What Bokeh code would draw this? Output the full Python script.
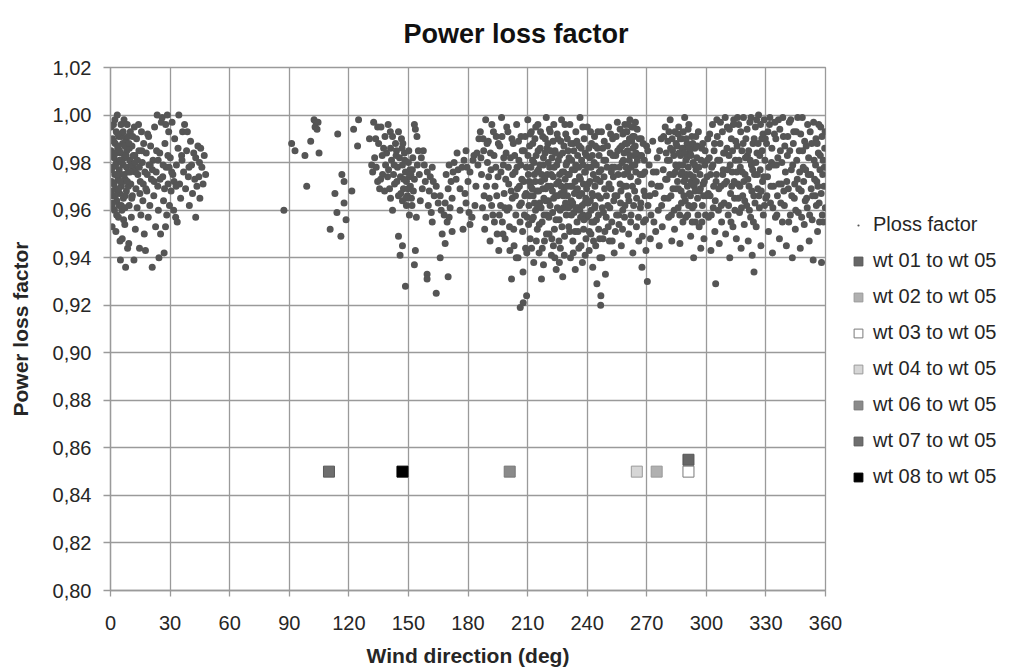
from bokeh.plotting import figure
from bokeh.models import Legend, LegendItem, FixedTicker, CustomJSTickFormatter, Range1d
from bokeh.embed import file_html
from bokeh.resources import INLINE

# ---------------- data ----------------
x_ticks = [0, 30, 60, 90, 120, 150, 180, 210, 240, 270, 300, 330, 360]
y_ticks = [0.80, 0.82, 0.84, 0.86, 0.88, 0.90, 0.92, 0.94, 0.96, 0.98, 1.00, 1.02]

# Ploss factor points: (wind direction deg, power loss factor)
sector_000_050 = [
(0.3,.985),(0.6,.972),(0.8,.953),(1.0,.990),(1.2,.978),(1.4,.966),(1.5,.996),(1.8,.982),(2.0,.960),(2.1,.975),
(2.3,.988),(2.5,.969),(2.7,.951),(2.9,.993),(3.0,.980),(3.2,.964),(3.4,1.000),(3.6,.986),(3.8,.973),(4.0,.957),
(4.2,.991),(4.4,.977),(4.6,.967),(4.8,.947),(5.0,.939),(5.1,.984),(5.3,.996),(5.5,.970),(5.7,.960),(5.9,.948),
(6.1,.988),(6.3,.979),(6.5,.965),(6.8,.998),(7.0,.982),(7.2,.954),(7.4,.973),(7.6,.936),(7.8,.990),(8.0,.968),
(8.2,.985),(8.4,.996),(8.6,.944),(8.9,.976),(9.2,.946),(9.4,.962),(9.7,.981),(10.0,.993),(10.2,.971),(10.5,.957),
(10.8,.987),(11.0,.966),(11.3,.978),(11.8,.939),(12.0,.995),(12.2,.983),(12.5,.952),(12.8,.969),(13.1,.990),(13.4,.961),
(13.8,.975),(14.1,.996),(14.3,.985),(14.6,.944),(15.0,.972),(15.3,.958),(15.6,.993),(16.0,.980),(16.3,.964),(16.7,.988),
(17.0,.950),(17.3,.976),(17.6,.943),(18.0,.984),(18.3,.968),(18.7,.992),(19.0,.957),(19.4,.979),(19.8,.962),(20.2,.987),
(20.6,.973),(21.0,.936),(21.4,.981),(21.8,.966),(22.2,.995),(22.7,.953),(23.0,.976),(23.5,1.000),(23.8,.970),(24.1,.960),
(24.4,.940),(24.8,.984),(25.2,.950),(25.6,.997),(26.0,.999),(26.3,.974),(26.7,.964),(27.0,.942),(27.4,.988),(27.7,.953),
(28.0,.978),(28.3,.958),(28.6,1.000),(29.0,.971),(29.3,.993),(29.7,.962),(30.1,.982),(30.5,.968),(31.0,.997),(31.4,.975),
(31.8,.960),(32.3,.990),(32.8,.957),(33.2,.979),(33.6,.955),(34.0,.986),(34.4,1.000),(34.8,.971),(35.3,.965),(35.8,.983),
(36.3,.993),(36.8,.976),(37.3,.996),(37.8,.969),(38.3,.985),(38.7,.993),(39.2,.974),(39.7,.962),(40.3,.989),(40.8,.979),
(41.3,.967),(41.9,.984),(42.4,.973),(42.9,.982),(42.9,.957),(43.5,.970),(44.0,.987),(44.5,.974),(45.0,.965),(45.4,.986),
(46.0,.978),(46.6,.971),(47.2,.983),(47.9,.975),
(0.2,.968),(0.4,.995),(0.9,.961),(1.3,.984),(1.7,.971),(2.2,.998),(2.6,.979),(3.1,.958),(3.5,.968),(3.9,.987),
(4.3,.962),(4.7,.981),(5.2,.975),(5.6,.991),(6.2,.972),(6.6,.956),(7.1,.987),(7.5,.966),(8.1,.978),(8.8,.991),
(9.0,.970),(9.5,.986),(10.4,.979),(11.5,.983),(12.6,.976),(13.6,.981),(14.8,.967),(16.5,.971),(18.5,.975),(20.0,.979),
(22.0,.972),(24.0,.981),(26.5,.979),(27.8,.996),(28.9,.983),(30.8,.976),(32.0,.972),
(0.5,.977),(1.1,.963),(1.6,.989),(2.4,.966),(2.8,.984),(3.3,.975),(3.7,.992),(4.1,.969),(4.5,.985),(4.9,.972),
(5.4,.962),(5.8,.980),(6.4,.993),(6.9,.975),(7.3,.961),(7.9,.983),(8.5,.972),(9.3,.988),(9.9,.976),(10.7,.965),
(11.2,.991),(12.4,.980),(14.5,.978),(15.8,.985),(17.8,.969),(19.2,.991),(21.1,.977),(23.2,.985),(25.0,.973),(27.2,.969),
(29.5,.978),(33.0,.970),(36.0,.981),(39.5,.978),(44.8,.980),
]

sector_085_130 = [
(87.3,.960),(91.2,.988),(92.9,.985),(97.9,.983),(100.8,.989),(105.0,.984),(102.5,.998),(103.5,.997),(103.0,.995),
(104.5,.997),(104.0,.994),(114.4,.992),(98.8,.970),(116.5,.975),(117.6,.972),(113.0,.967),(121.5,.968),(117.6,.963),
(114.0,.959),(118.6,.956),(110.6,.952),(116.0,.949),(122.4,.994),(124.9,.998),(124.4,.987),(130.4,.990),
]

sector_130_186 = [
(132.5,.997),(134.5,.995),(136.2,.995),(139.8,.996),(140.9,.993),(142.0,.991),(143.5,.988),(145.0,.993),(146.5,.990),
(144.0,.985),(141.0,.986),(139.0,.984),(137.5,.986),(135.0,.988),(133.0,.982),(131.5,.979),(132.0,.976),(133.8,.978),
(134.5,.972),(135.5,.969),(137.0,.975),(138.5,.979),(140.0,.977),(141.5,.981),(142.5,.975),(143.0,.971),(144.5,.978),
(145.5,.982),(146.0,.974),(147.0,.979),(147.5,.969),(148.0,.984),(148.5,.976),(149.0,.972),(149.5,.966),(150.0,.980),
(150.5,.974),(151.0,.970),(151.5,.965),(152.0,.977),(152.5,.968),(153.0,.973),(149.0,.962),(147.0,.964),(145.0,.966),
(141.0,.965),(138.0,.968),(136.0,.973),(153.5,.994),(154.3,.991),(153.0,.996),(155.0,.985),(156.5,.982),(158.0,.979),
(159.5,.976),(161.0,.974),(162.5,.972),(157.0,.969),(163.0,.966),(160.0,.962),(165.0,.963),(166.5,.960),(168.0,.958),
(169.5,.955),(170.5,.957),(167.0,.950),(168.5,.946),(166.0,.940),(164.0,.925),(170.0,.932),(159.4,.933),(159.4,.931),
(153.5,.943),(153.0,.937),(148.5,.928),(145.0,.949),(147.0,.945),(145.8,.941),(161.5,.959),(162.0,.955),(156.0,.964),
(171.0,.961),(172.0,.965),(170.0,.969),(171.5,.972),(169.0,.975),(170.5,.979),(173.0,.980),(175.0,.977),(174.0,.973),
(176.0,.969),(178.0,.981),(179.5,.978),(181.0,.976),(180.0,.972),(178.5,.967),(179.0,.963),(180.5,.959),(181.0,.954),
(182.0,.957),(177.5,.952),(183.0,.983),(184.5,.984),(185.0,.979),(176.0,.960),(172.0,.951),(154.0,.957),(142.0,.960),
(150.5,.958),(143.8,.983),(146.8,.986),(148.2,.981),(150.8,.977),(147.7,.973),(149.8,.969),(151.8,.962),
(133.5,.990),(136.8,.983),(138.2,.991),(139.5,.974),(140.5,.969),(142.8,.979),(144.2,.972),(146.2,.967),(147.2,.988),
(148.8,.965),(150.2,.985),(151.2,.975),(152.2,.982),(154.5,.979),(155.5,.975),(157.5,.985),(158.5,.972),(160.5,.968),
(162.0,.978),(164.0,.970),(166.0,.966),(168.5,.963),(172.5,.976),(174.5,.984),(177.0,.978),(179.0,.985),(182.5,.981),
(184.0,.970),(185.5,.990),(183.5,.962),
]

sector_186_240 = [
(186.2,.993),(186.8,.975),(187.3,.961),(187.9,.985),(188.4,.952),(188.9,.998),(189.3,.970),(189.8,.980),
(190.2,.989),(190.7,.965),(191.1,.947),(191.6,.977),(192.0,.996),(192.5,.958),(193.1,.983),(193.6,.970),(194.2,.991),(194.7,.950),
(195.1,.974),(195.5,.943),(196.0,.987),(196.4,.962),(196.9,.999),(197.3,.955),(197.8,.979),(198.2,.967),(198.7,.948),(199.2,.984),(199.7,.960),
(200.1,.993),(200.5,.971),(200.9,.953),(201.4,.982),(201.9,.931),(202.3,.965),(202.8,.988),(203.2,.945),(203.7,.976),(204.1,.958),(204.5,.996),(204.9,.969),
(205.2,.940),(205.6,.981),(206.0,.962),(206.3,.919),(206.7,.991),(207.1,.973),(207.5,.951),(207.8,.921),(208.2,.985),(208.6,.966),(209.0,.944),(209.4,.978),(209.5,.924),(209.8,.957),
(210.1,.998),(210.4,.975),(210.7,.962),(211.0,.987),(211.3,.948),(211.6,.970),(211.9,.993),(212.2,.956),(212.5,.981),(212.8,.966),(213.1,.938),(213.4,.975),(213.7,.990),(214.0,.960),(214.3,.983),(214.6,.968),(214.9,.952),
(215.2,.996),(215.5,.977),(215.8,.942),(216.1,.963),(216.4,.986),(216.7,.972),(217.0,.931),(217.3,.955),(217.6,.991),(217.9,.979),(218.2,.965),(218.5,.947),(218.8,.984),(219.1,.969),(219.4,.999),(219.7,.958),(219.9,.975),(218.0,.937),
(220.2,.988),(220.5,.964),(220.8,.950),(221.1,.978),(221.4,.993),(221.7,.970),(222.0,.941),(222.3,.982),(222.6,.959),(222.9,.974),(223.2,.996),(223.5,.952),(223.8,.985),(224.1,.966),(224.4,.935),(224.7,.979),(225.0,.961),(223.0,.945),
(225.3,.990),(225.6,.972),(225.9,.956),(226.2,.983),(226.5,.944),(226.8,.967),(227.1,.998),(227.4,.976),(227.7,.932),(228.0,.961),(228.3,.987),(228.6,.949),(228.9,.973),(229.2,.992),(229.5,.958),(229.8,.980),(226.0,.938),(228.4,.968),
(230.1,.966),(230.4,.985),(230.7,.953),(231.0,.975),(231.3,.996),(231.6,.940),(231.9,.962),(232.2,.981),(232.5,.970),(232.8,.947),(233.1,.988),(233.4,.959),(233.7,.977),(234.0,.935),(234.3,.993),(234.6,.968),(234.9,.955),(232.0,.964),(233.9,.972),
(235.2,.983),(235.5,.961),(235.8,.944),(236.1,.974),(236.4,.999),(236.7,.957),(237.0,.986),(237.3,.967),(237.6,.938),(237.9,.979),(238.2,.952),(238.5,.990),(238.8,.963),(239.1,.976),(239.4,.948),(239.7,.969),(236.0,.966),(238.0,.958),(239.0,.984),
(186.5,.982),(187.6,.990),(188.1,.966),(189.0,.957),(189.6,.988),(190.4,.974),(191.3,.984),(191.9,.962),(192.8,.993),(193.3,.955),(194.0,.978),(194.5,.966),(195.3,.988),(195.8,.958),(196.6,.976),(197.1,.991),(197.6,.950),(198.0,.982),(198.5,.961),(199.0,.973),(199.5,.995),
(200.3,.978),(200.7,.961),(201.1,.943),(201.7,.968),(202.1,.990),(202.5,.975),(203.0,.952),(203.5,.983),(203.9,.966),(204.3,.940),(204.7,.978),
(205.4,.989),(205.9,.970),(206.2,.955),(206.5,.979),(206.9,.963),(207.3,.985),(207.7,.934),(208.0,.972),(208.4,.958),(208.8,.991),(209.2,.967),(209.6,.942),
(210.2,.983),(210.5,.954),(210.8,.972),(211.1,.966),(211.4,.992),(211.7,.978),(212.0,.944),(212.3,.969),(212.6,.988),(212.9,.957),(213.2,.980),(213.5,.963),(213.8,.972),(214.1,.995),(214.4,.947),(214.7,.976),
(215.0,.962),(215.3,.985),(215.6,.968),(215.9,.954),(216.2,.979),(216.5,.993),(216.8,.961),(217.1,.975),(217.4,.944),(217.7,.969),(218.0,.982),(218.3,.958),(218.6,.973),(218.9,.990),(219.2,.964),(219.5,.950),(219.8,.986),
(220.1,.970),(220.4,.980),(220.7,.957),(221.0,.994),(221.3,.962),(221.6,.985),(221.9,.975),(222.2,.948),(222.5,.968),(222.8,.989),(223.1,.965),(223.4,.978),(223.7,.940),(224.0,.984),(224.3,.956),(224.6,.971),(224.9,.992),
(225.2,.966),(225.5,.981),(225.8,.947),(226.1,.975),(226.4,.960),(226.7,.989),(227.0,.970),(227.3,.953),(227.6,.984),(227.9,.966),(228.2,.976),(228.5,.941),(228.8,.996),(229.1,.963),(229.4,.979),(229.7,.970),
(230.0,.990),(230.3,.975),(230.6,.961),(230.9,.982),(231.2,.951),(231.5,.970),(231.8,.988),(232.1,.958),(232.4,.977),(232.7,.963),(233.0,.942),(233.3,.985),(233.6,.967),(233.9,.951),(234.2,.979),(234.5,.961),(234.8,.989),
(235.1,.969),(235.4,.951),(235.7,.978),(236.0,.987),(236.3,.960),(236.6,.973),(236.9,.945),(237.2,.981),(237.5,.962),(237.8,.995),(238.1,.971),(238.4,.956),(238.7,.976),(239.0,.941),(239.3,.965),(239.6,.983),(239.9,.957),
]

sector_240_300 = [
(240.1,.995),(240.4,.971),(240.7,.958),(241.0,.943),(241.3,.982),(241.6,.964),(241.9,.950),(242.2,.988),(242.5,.967),(242.8,.936),(243.1,.975),(243.4,.955),(243.7,.991),(244.0,.962),(244.3,.945),(244.6,.979),(244.9,.929),(242.0,.960),(243.9,.970),
(245.2,.986),(245.5,.966),(245.8,.952),(246.1,.976),(246.4,.940),(246.8,.920),(246.9,.924),(247.2,.993),(247.6,.961),(248.0,.948),(248.4,.981),(248.8,.969),(249.2,.933),(249.6,.957),(246.5,.972),(248.6,.989),
(250.0,.978),(250.4,.962),(250.8,.995),(251.2,.947),(251.6,.984),(252.0,.969),(252.4,.955),(252.8,.990),(253.2,.974),(253.6,.942),(254.0,.966),(254.4,.983),(254.8,.958),(252.6,.978),
(255.2,.997),(255.6,.975),(256.0,.954),(256.4,.986),(256.8,.963),(257.2,.945),(257.6,.980),(258.0,.992),(258.4,.970),(258.8,.957),(259.2,.988),(259.6,.978),(258.6,.984),(259.0,.996),(256.6,.971),(257.9,.960),
(260.0,.993),(260.3,.985),(260.6,.966),(260.9,.950),(261.2,.981),(261.5,.998),(261.8,.974),(262.1,.958),(262.4,.989),(262.7,.979),(263.0,.942),(263.3,.995),(263.6,.983),(263.9,.968),(264.2,.987),(264.5,.976),(264.8,.953),(262.9,.991),
(265.2,.994),(265.6,.972),(266.0,.947),(266.4,.983),(266.8,.961),(267.2,.990),(267.6,.936),(268.0,.975),(268.4,.955),(268.8,.981),(269.2,.966),(269.6,.943),(269.9,.987),
(270.3,.930),(270.6,.962),(271.2,.979),(271.8,.948),(272.4,.971),(273.0,.989),(273.6,.955),(274.2,.967),(274.8,.976),
(275.3,.982),(275.8,.960),(276.3,.945),(276.8,.970),(277.3,.990),(277.8,.953),(278.3,.977),(278.8,.965),(279.3,.995),(279.8,.984),
(280.2,.973),(280.6,.989),(281.0,.957),(281.4,.981),(281.8,.998),(282.2,.966),(282.6,.947),(283.0,.985),(283.4,.975),(283.8,.960),(284.2,.993),(284.6,.979),(284.9,.969),
(285.2,.987),(285.5,.972),(285.8,.961),(286.1,.995),(286.4,.979),(286.7,.946),(287.0,.983),(287.3,.968),(287.6,.990),(287.9,.976),(288.2,.955),(288.5,.986),(288.8,.972),(289.1,.999),(289.4,.964),(289.7,.981),
(290.0,.975),(290.3,.988),(290.6,.958),(290.9,.978),(291.2,.996),(291.5,.967),(291.8,.984),(292.1,.949),(292.4,.972),(292.7,.991),(293.0,.961),(293.3,.980),(293.6,.940),(293.9,.970),(294.2,.986),(294.5,.955),(294.8,.977),
(295.2,.982),(295.6,.965),(296.0,.993),(296.4,.953),(296.8,.975),(297.2,.944),(297.6,.986),(298.0,.962),(298.4,.971),(298.8,.948),(299.2,.979),(299.6,.958),(297.0,.969),(299.9,.966),
(240.2,.978),(240.5,.963),(240.8,.986),(241.1,.951),(241.4,.972),(241.7,.993),(242.0,.978),(242.3,.955),(242.6,.983),(242.9,.966),(243.2,.947),(243.5,.980),(243.8,.961),(244.1,.987),(244.4,.973),(244.7,.956),
(245.0,.973),(245.4,.993),(245.7,.958),(246.0,.983),(246.3,.948),(246.7,.965),(247.0,.977),(247.4,.940),(247.8,.986),(248.2,.959),(248.5,.974),(248.9,.951),(249.3,.981),(249.7,.966),
(250.2,.987),(250.6,.953),(251.0,.971),(251.4,.961),(251.8,.992),(252.2,.976),(252.6,.947),(253.0,.983),(253.4,.964),(253.8,.978),(254.2,.951),(254.6,.991),
(255.0,.966),(255.4,.985),(255.8,.958),(256.2,.978),(256.6,.994),(257.0,.968),(257.4,.987),(257.8,.952),(258.2,.981),(258.6,.975),(259.0,.962),(259.4,.993),(259.8,.970),
(260.1,.988),(260.4,.976),(260.7,.996),(261.0,.964),(261.3,.990),(261.6,.983),(261.9,.955),(262.2,.978),(262.5,.995),(262.8,.970),(263.1,.986),(263.4,.962),(263.7,.991),(264.0,.979),(264.3,.997),(264.6,.984),(264.9,.965),
(265.3,.981),(265.8,.957),(266.2,.990),(266.6,.975),(267.0,.963),(267.4,.983),(267.8,.949),(268.2,.988),(268.6,.968),(269.0,.976),(269.4,.956),
(270.5,.985),(271.5,.966),(272.1,.958),(273.3,.976),(274.5,.951),(275.5,.970),(276.5,.985),(277.5,.962),(278.5,.991),(279.5,.973),
(280.4,.981),(280.8,.965),(281.2,.993),(281.6,.975),(282.0,.986),(282.4,.958),(282.8,.990),(283.2,.969),(283.6,.983),(284.0,.952),(284.4,.976),(284.8,.988),
(285.3,.978),(285.7,.992),(286.0,.969),(286.3,.984),(286.6,.958),(286.9,.990),(287.2,.975),(287.5,.963),(287.8,.986),(288.1,.979),(288.4,.993),(288.7,.966),(289.0,.984),(289.3,.973),(289.6,.957),(289.9,.990),
(290.2,.982),(290.5,.970),(290.8,.994),(291.1,.962),(291.4,.986),(291.7,.975),(292.0,.966),(292.3,.983),(292.6,.971),(292.9,.955),(293.2,.988),(293.5,.974),(293.8,.962),(294.1,.979),(294.4,.968),(294.7,.991),
(295.0,.972),(295.4,.987),(295.8,.958),(296.2,.978),(296.6,.968),(297.4,.981),(297.8,.955),(298.2,.988),(298.6,.966),(299.0,.972),(299.4,.985),
]

sector_300_360 = [
(300.3,.974),(300.7,.990),(301.1,.957),(301.5,.982),(301.9,.966),(302.3,.943),(302.7,.978),(303.1,.996),(303.5,.961),(303.9,.985),(304.3,.951),(304.7,.929),(304.9,.972),
(305.3,.998),(305.7,.981),(306.1,.960),(306.5,.946),(306.9,.988),(307.3,.970),(307.7,.955),(308.1,.993),(308.5,.977),(308.9,.963),(309.3,.984),(309.7,.950),
(310.2,.972),(310.6,.995),(311.0,.958),(311.4,.983),(311.8,.940),(312.2,.967),(312.6,.990),(313.0,.976),(313.4,.953),(313.8,.998),(314.2,.965),(314.6,.981),
(315.1,.948),(315.5,.987),(315.9,.971),(316.3,.996),(316.7,.959),(317.1,.978),(317.5,.944),(317.9,.985),(318.3,.966),(318.7,.999),(319.1,.954),(319.5,.975),(319.9,.990),
(320.3,.962),(320.7,.983),(321.1,.947),(321.5,.970),(321.9,.997),(322.3,.957),(322.7,.979),(323.1,.941),(323.5,.988),(323.9,.966),(324.0,.934),(324.3,.975),(324.7,.995),
(325.1,.953),(325.5,.984),(325.9,.969),(326.3,1.000),(326.7,.961),(327.1,.977),(327.5,.945),(327.9,.990),(328.3,.972),(328.7,.958),(329.1,.998),(329.5,.981),(329.9,.965),
(330.3,.988),(330.8,.974),(331.3,.951),(331.8,.996),(332.3,.963),(332.8,.980),(333.3,.942),(333.8,.970),(334.3,.992),(334.8,.957),
(335.3,.979),(335.8,.966),(336.3,.998),(336.8,.948),(337.3,.985),(337.8,.971),(338.3,.955),(338.8,.991),(339.3,.962),(339.8,.976),
(340.3,.945),(340.8,.983),(341.3,.969),(341.8,.997),(342.3,.958),(342.8,.977),(343.3,.940),(343.8,.988),(344.3,.965),(344.8,.952),
(345.3,.993),(345.8,.973),(346.3,.959),(346.8,.985),(347.3,.944),(347.8,.968),(348.3,.999),(348.8,.978),(349.3,.954),(349.8,.964),
(350.3,.987),(350.8,.961),(351.3,.975),(351.8,.947),(352.3,.993),(352.8,.969),(353.3,.956),(353.8,.939),(354.3,.981),(354.8,.966),
(355.2,.990),(355.6,.972),(356.0,.951),(356.4,.984),(356.8,.963),(357.2,.977),(357.6,.995),(358.0,.938),(358.4,.958),(358.8,.981),(359.2,.970),(359.6,.986),(359.9,.961),(358.6,.975),
(300.5,.981),(301.0,.967),(301.7,.992),(302.1,.975),(302.5,.958),(303.3,.979),(303.7,.970),(304.1,.988),(304.5,.964),
(305.1,.975),(305.5,.991),(306.3,.969),(306.7,.981),(307.1,.997),(307.5,.962),(308.3,.975),(308.7,.984),(309.1,.971),(309.5,.999),
(310.4,.986),(310.8,.977),(311.2,.962),(311.6,.994),(312.0,.979),(312.4,.955),(312.8,.970),(313.2,.985),(313.6,.996),(314.0,.972),(314.4,.960),(314.8,.989),
(315.3,.976),(315.7,.999),(316.1,.965),(316.5,.981),(316.9,.970),(317.3,.993),(317.7,.961),(318.1,.976),(318.5,.988),(318.9,.972),(319.3,.964),(319.7,.982),
(320.5,.994),(320.9,.973),(321.3,.985),(321.7,.960),(322.1,.981),(322.5,.999),(322.9,.968),(323.3,.977),(323.7,.955),(324.1,.990),(324.5,.963),(324.9,.980),
(325.3,.998),(325.7,.975),(326.1,.988),(326.5,.966),(326.9,.983),(327.3,.996),(327.7,.968),(328.1,.985),(328.5,.992),(328.9,.974),(329.3,.962),(329.7,.990),
(330.5,.966),(331.0,.993),(331.5,.978),(332.0,.999),(332.5,.970),(333.0,.986),(333.5,.961),(334.0,.979),(334.5,.997),
(335.0,.990),(335.5,.958),(336.0,.982),(336.5,.971),(337.0,.994),(337.5,.963),(338.0,.980),(338.5,.999),(339.0,.968),(339.5,.987),
(340.5,.972),(341.0,.991),(341.5,.955),(342.0,.985),(342.5,.998),(343.0,.966),(343.5,.979),(344.0,.993),(344.5,.971),
(345.0,.960),(345.5,.981),(346.0,.999),(346.5,.969),(347.0,.976),(347.5,.992),(348.0,.957),(348.5,.985),(349.0,.972),(349.5,.989),
(350.0,.977),(350.5,.965),(351.0,.996),(351.5,.982),(352.0,.958),(352.5,.975),(353.0,.988),(353.5,.966),(354.0,.997),(354.5,.973),
(355.0,.979),(355.4,.962),(355.8,.988),(356.2,.970),(356.6,.996),(357.0,.955),(357.4,.983),(357.8,.967),(358.2,.991),(359.0,.955),(359.4,.978),(359.8,.993),
]

# turbine pair markers
pair_labels = ["wt 01 to wt 05", "wt 02 to wt 05", "wt 03 to wt 05", "wt 04 to wt 05",
               "wt 06 to wt 05", "wt 07 to wt 05", "wt 08 to wt 05"]
pair_dirs = [291, 275, 291, 265, 201, 110, 147]
pair_factors = [0.855, 0.85, 0.85, 0.85, 0.85, 0.85, 0.85]

# ---------------- styling ----------------
pair_fill = ["#666666", "#b0b0b0", "#ffffff", "#d6d6d6", "#8a8a8a", "#6e6e6e", "#000000"]
pair_line = ["#555555", "#999999", "#7a7a7a", "#9a9a9a", "#777777", "#5a5a5a", "#000000"]
FONT = "Liberation Sans"
TXT = "#262626"
GRID = "#9a9a9a"

all_pts = sector_000_050 + sector_085_130 + sector_130_186 + sector_186_240 + sector_240_300 + sector_300_360
px = [d for d, _ in all_pts]
py = [v for _, v in all_pts]

p = figure(frame_width=715, frame_height=523,
           x_range=Range1d(0, 360), y_range=Range1d(0.80, 1.02),
           output_backend="svg", toolbar_location=None,
           min_border_left=110, min_border_right=190, min_border_top=67, min_border_bottom=82,
           title="Power loss factor")

p.background_fill_color = "white"
p.border_fill_color = "white"
p.outline_line_color = GRID
p.outline_line_width = 1.3

p.title.text_font = FONT
p.title.text_font_size = "27px"
p.title.text_font_style = "bold"
p.title.text_color = "#111111"
p.title.align = "left"
p.title.offset = 293
p.title.vertical_align = "top"
p.title.standoff = 34

p.xaxis.ticker = FixedTicker(ticks=x_ticks)
p.yaxis.ticker = FixedTicker(ticks=y_ticks)
p.yaxis.formatter = CustomJSTickFormatter(code="return tick.toFixed(2).replace('.', ',');")

for ax in (p.xaxis[0], p.yaxis[0]):
    ax.axis_line_color = GRID
    ax.axis_line_width = 1.3
    ax.major_tick_line_color = GRID
    ax.major_tick_line_width = 1.3
    ax.major_tick_in = 0
    ax.minor_tick_line_color = None
    ax.major_label_text_font = FONT
    ax.major_label_text_font_size = "20px"
    ax.major_label_text_color = TXT
    ax.axis_label_text_font = FONT
    ax.axis_label_text_font_size = "21px"
    ax.axis_label_text_font_style = "bold"
    ax.axis_label_text_color = TXT

p.xaxis.axis_label = "Wind direction (deg)"
p.yaxis.axis_label = "Power loss factor"
p.xaxis.major_tick_out = 6
p.yaxis.major_tick_out = 7
p.xaxis.major_label_standoff = 19
p.yaxis.major_label_standoff = 12
p.xaxis.axis_label_standoff = 11
p.yaxis.axis_label_standoff = 18

p.xgrid.ticker = FixedTicker(ticks=x_ticks)
p.ygrid.ticker = FixedTicker(ticks=y_ticks)
p.grid.grid_line_color = GRID
p.grid.grid_line_width = 1.3

items = []
r = p.scatter(px, py, marker="dot", size=28, line_color="#555555", fill_color="#555555")
items.append(LegendItem(label="Ploss factor", renderers=[r]))

for lab, d, f, fc, lc in zip(pair_labels, pair_dirs, pair_factors, pair_fill, pair_line):
    rr = p.scatter([d], [f], marker="square", size=11, fill_color=fc, line_color=lc, line_width=1)
    items.append(LegendItem(label=lab, renderers=[rr]))

legend = Legend(items=items, location=(22, 102),
                label_text_font=FONT, label_text_font_size="20px", label_text_color=TXT,
                glyph_width=22, glyph_height=22, label_height=22, label_standoff=4,
                spacing=13, padding=0, margin=0,
                border_line_alpha=0, background_fill_alpha=0)
p.add_layout(legend, "right")

open("out.html", "w").write(file_html(p, INLINE))
